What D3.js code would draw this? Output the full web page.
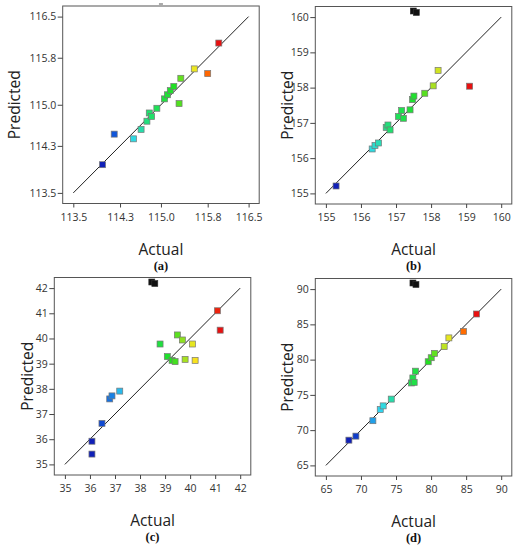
<!DOCTYPE html>
<html>
<head>
<meta charset="utf-8">
<script src="https://cdn.jsdelivr.net/npm/d3@7"></script>
<style>
  body { margin: 0; background: #fff; }
  svg { display: block; }
  .tick text { font-family: "Open Sans", sans-serif; font-size: 10.5px; fill: #333; }
  .tick line { stroke: #444; }
</style>
</head>
<body>
<div id="chart"></div>
<script>
// panel (a)
var actualA = [114.0, 114.2, 114.53, 114.66, 114.76, 114.8, 114.84, 114.93, 115.06, 115.11, 115.16, 115.22, 115.31, 115.34, 115.57, 115.8, 115.99];
var predA   = [113.98, 114.5, 114.42, 114.58, 114.72, 114.86, 114.8, 114.94, 115.1, 115.17, 115.24, 115.31, 115.02, 115.45, 115.61, 115.53, 116.05];
var ticksA  = [113.5, 114.3, 115.0, 115.8, 116.5];
var tickLabelsA = ["113.5", "114.3", "115.0", "115.8", "116.5"];

// panel (b)
var actualB = [155.29, 156.32, 156.4, 156.5, 156.72, 156.77, 156.83, 157.07, 157.16, 157.21, 157.4, 157.47, 157.51, 157.82, 158.06, 158.2, 159.1];
var predB   = [155.21, 156.26, 156.36, 156.43, 156.87, 156.94, 156.8, 157.18, 157.35, 157.13, 157.37, 157.66, 157.76, 157.84, 158.05, 158.49, 158.04];
var ticksB  = [155, 156, 157, 158, 159, 160];

// panel (c)
var actualC = [36.08, 36.08, 36.48, 36.79, 36.88, 37.19, 38.8, 39.09, 39.28, 39.4, 39.49, 39.69, 39.8, 40.09, 40.2, 41.09, 41.2];
var predC   = [35.41, 35.92, 36.63, 37.6, 37.72, 37.91, 39.78, 39.28, 39.13, 39.08, 40.14, 39.94, 39.17, 39.78, 39.13, 41.1, 40.33];
var ticksC  = [35, 36, 37, 38, 39, 40, 41, 42];

// panel (d)
var actualD = [68.28, 69.28, 71.7, 72.75, 73.17, 74.32, 77.21, 77.4, 77.59, 77.78, 79.59, 80.02, 80.49, 81.87, 82.54, 84.63, 86.48];
var predD   = [68.58, 69.15, 71.34, 72.92, 73.44, 74.4, 76.69, 77.4, 76.78, 78.36, 79.7, 80.27, 80.89, 81.84, 83.08, 83.99, 86.47];
var ticksD  = [65, 70, 75, 80, 85, 90];

// markers drawn at the top edge of each frame
var flagA = 115.0, flagB = 157.55, flagC = 38.55, flagD = 77.7;

var panelLabels = ["(a)", "(b)", "(c)", "(d)"];

var panels = [
  {x: actualA, y: predA, ticks: ticksA, labels: tickLabelsA, flag: flagA, flagGray: true,
   left: 62.7, top: 6, titleX: 20, label: panelLabels[0]},
  {x: actualB, y: predB, ticks: ticksB, labels: null, flag: flagB, flagGray: false,
   left: 315.3, top: 6.5, titleX: 293, label: panelLabels[1]},
  {x: actualC, y: predC, ticks: ticksC, labels: null, flag: flagC, flagGray: false,
   left: 54.3, top: 277.5, titleX: 33, label: panelLabels[2]},
  {x: actualD, y: predD, ticks: ticksD, labels: null, flag: flagD, flagGray: false,
   left: 315.3, top: 278.5, titleX: 293, label: panelLabels[3]}
];

var W = 517, H = 550;
var frameW = 196.5, frameH = 197.5, inset = 10.6;

var svg = d3.select("#chart").append("svg").attr("width", W).attr("height", H);

// rainbow colour by actual value, like the design software
var colorStops = [0, 0.12, 0.25, 0.4, 0.62, 0.72, 0.8, 0.9, 1];
var colorVals = ["#1020b8", "#1060e0", "#30d8f0", "#20e070", "#20e020", "#a0e020", "#f8e820", "#ff6a00", "#e81010"];

panels.forEach(function(p) {
  var lo = p.ticks[0], hi = p.ticks[p.ticks.length - 1];
  var x = d3.scaleLinear().domain([lo, hi]).range([p.left + inset, p.left + frameW - inset]);
  var y = d3.scaleLinear().domain([lo, hi]).range([p.top + frameH - inset, p.top + inset]);
  var ext = d3.extent(p.x);
  var norm = d3.scaleLinear().domain(ext).range([0, 1]);
  var col = d3.scaleLinear().domain(colorStops).range(colorVals);

  var g = svg.append("g");

  g.append("rect")
    .attr("x", p.left).attr("y", p.top)
    .attr("width", frameW).attr("height", frameH)
    .attr("fill", "none").attr("stroke", "#555").attr("stroke-width", 1);

  var fmt = function(d, i) { return p.labels ? p.labels[i] : d; };

  var xa = g.append("g")
    .attr("transform", "translate(0," + (p.top + frameH) + ")")
    .call(d3.axisBottom(x).tickValues(p.ticks).tickFormat(fmt).tickSize(4).tickPadding(6));
  xa.select(".domain").remove();

  var ya = g.append("g")
    .attr("transform", "translate(" + p.left + ",0)")
    .call(d3.axisLeft(y).tickValues(p.ticks).tickFormat(fmt).tickSize(5).tickPadding(1.5));
  ya.select(".domain").remove();

  // 1:1 line
  g.append("line")
    .attr("x1", x(lo)).attr("y1", y(lo))
    .attr("x2", x(hi)).attr("y2", y(hi))
    .attr("stroke", "#222").attr("stroke-width", 1);

  var pts = p.x.map(function(v, i) { return {a: v, p: p.y[i]}; });
  g.selectAll("rect.pt")
    .data(pts).enter().append("rect")
      .attr("class", "pt")
      .attr("x", function(d) { return x(d.a) - 3; })
      .attr("y", function(d) { return y(d.p) - 3; })
      .attr("width", 6).attr("height", 6)
      .attr("fill", function(d) { return col(norm(d.a)); })
      .attr("stroke", "#777").attr("stroke-width", 0.7);

  // marker at top edge
  if (p.flagGray) {
    g.append("rect")
      .attr("x", x(p.flag) - 2).attr("y", p.top - 3)
      .attr("width", 4).attr("height", 2.5)
      .attr("fill", "#aaa");
  } else {
    [-2, 1].forEach(function(dx, k) {
      g.append("rect")
        .attr("x", x(p.flag) - 3 + dx).attr("y", p.top + 1.5 + k * 1.5)
        .attr("width", 6).attr("height", 6)
        .attr("fill", "#111").attr("stroke", "#333").attr("stroke-width", 0.6);
    });
  }

  // axis titles
  g.append("text")
    .attr("x", (x(lo) + x(hi)) / 2)
    .attr("y", p.top + frameH + 51)
    .attr("text-anchor", "middle")
    .style("font-family", "'Open Sans', sans-serif")
    .style("font-size", "15.5px")
    .attr("fill", "#222")
    .text("Actual");

  g.append("text")
    .attr("transform", "translate(" + p.titleX + "," + (p.top + frameH / 2) + ") rotate(-90)")
    .attr("text-anchor", "middle")
    .style("font-family", "'Open Sans', sans-serif")
    .style("font-size", "15.5px")
    .attr("fill", "#222")
    .text("Predicted");

  g.append("text")
    .attr("x", (x(lo) + x(hi)) / 2)
    .attr("y", p.top + frameH + 66)
    .attr("text-anchor", "middle")
    .style("font-family", "'Liberation Serif', serif")
    .style("font-size", "12.5px")
    .style("font-weight", "bold")
    .attr("fill", "#111")
    .text(p.label);
});
</script>
</body>
</html>
